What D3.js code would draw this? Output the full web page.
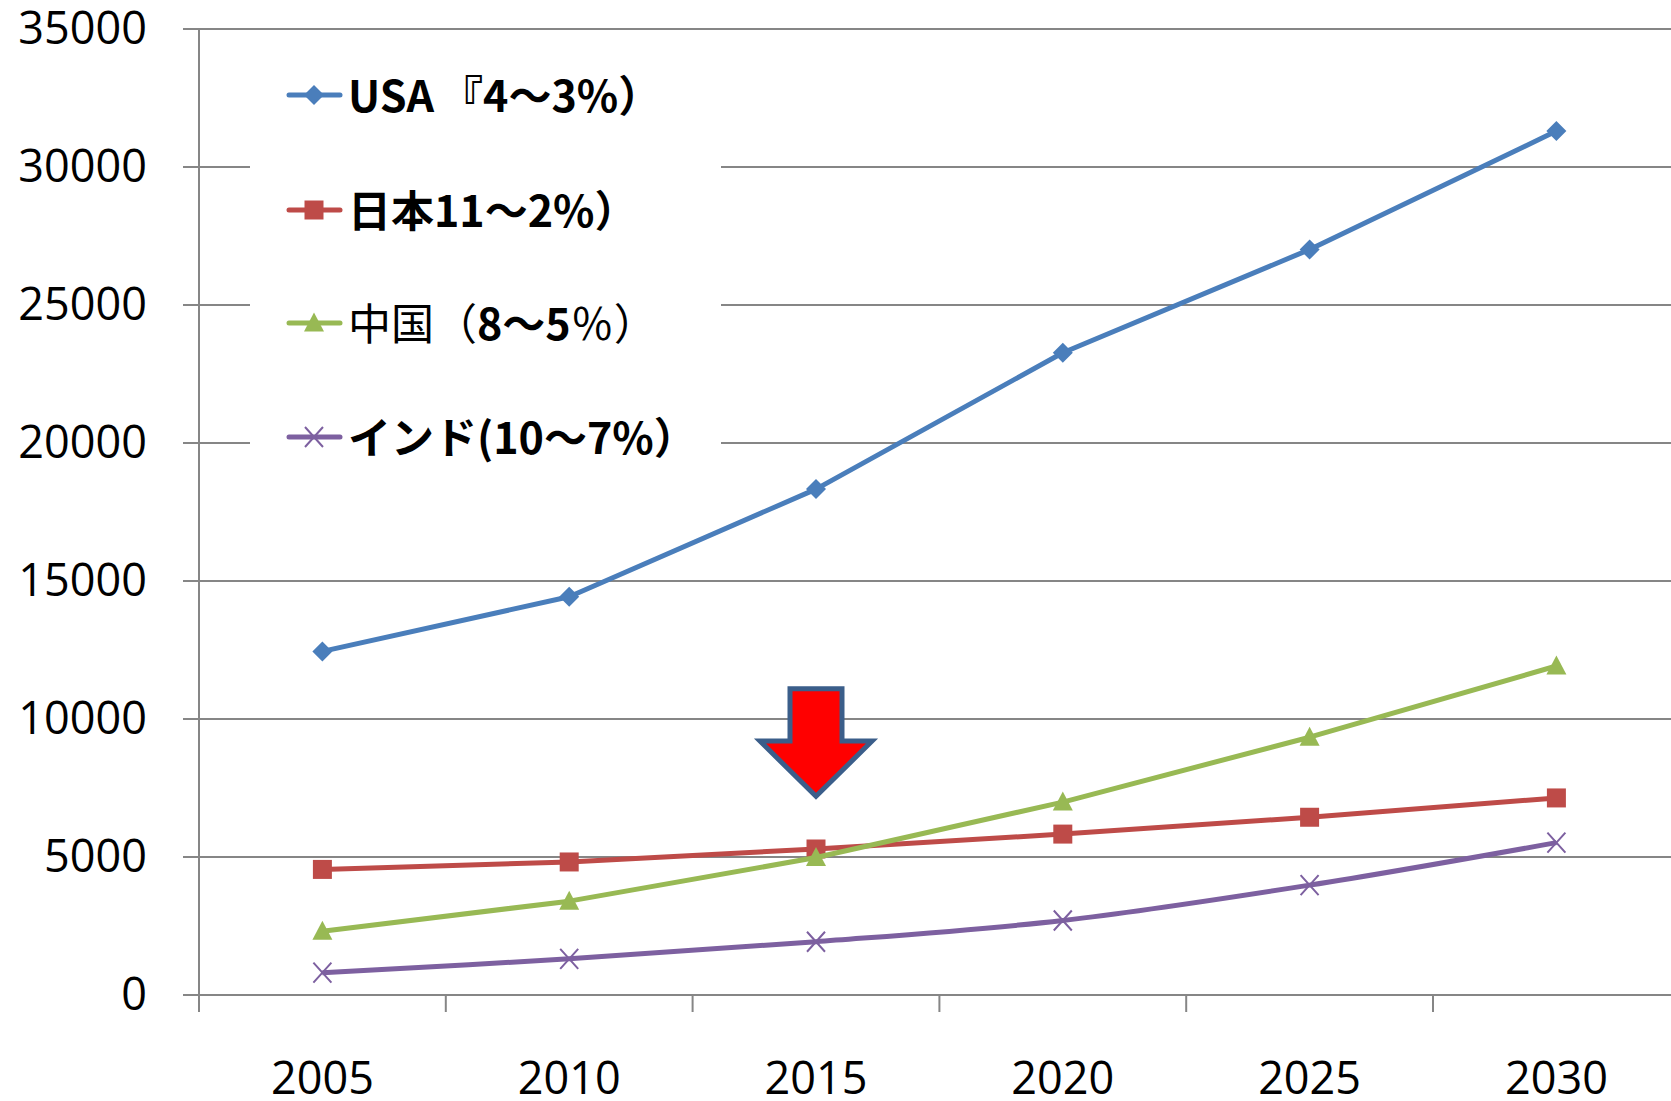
<!DOCTYPE html>
<html>
    <head>
        <meta charset="utf-8">
        <script src="https://d3js.org/d3.v7.min.js"></script>
        <title>GDP</title>

        <style>
            body {margin: 0; background-color: white; overflow: hidden;}
            text {font-family: "Open Sans", "Noto Sans CJK JP", sans-serif;}
            .legend text {font-family: "Noto Sans CJK JP", sans-serif;}
        </style>
    </head>
    <body>
        <script>
            const years = ['2005', '2010', '2015', '2020', '2025', '2030']
            const usa = [12450, 14430, 18330, 23270, 27010, 31300]
            const japan = [4550, 4820, 5290, 5830, 6440, 7140]
            const china = [2310, 3400, 4980, 6990, 9340, 11920]
            const india = [810, 1310, 1930, 2700, 3980, 5520]
            const yTicks = [0, 5000, 10000, 15000, 20000, 25000, 30000, 35000]

            const series = [
                {name: 'USA', values: usa, color: '#4a7ebb', marker: 'diamond'},
                {name: '日本', values: japan, color: '#be4b48', marker: 'square'},
                {name: '中国', values: china, color: '#98b954', marker: 'triangle'},
                {name: 'インド', values: india, color: '#7d60a0', marker: 'x', smooth: true}
            ]

            // legend labels: [text, weight, dx] pieces, to keep the mixed weights of the original
            const legendParts = [
                [['USA', 700, 0], ['『4～3%）', 700, 6]],
                [['日本11～2%）', 700, 0]],
                [['中国（', 400, 0], ['8～5', 700, 0], ['％）', 400, 0]],
                [['インド(10～7%）', 700, 0]]
            ]

            const width = 1671
            const height = 1101
            const margin = {top: 29, left: 199, bottom: 995}
            const band = 246.8

            const svg = d3.select('body')
                .append('svg')
                    .attr('width', width)
                    .attr('height', height)

            const xScale = d3.scaleBand().domain(years)
                .range([margin.left, margin.left + band * years.length])
            const yScale = d3.scaleLinear().domain([0, 35000]).range([margin.bottom, margin.top])
            const cx = d => xScale(d) + xScale.bandwidth() / 2

            const gridColor = '#868686'

            // horizontal grid + y ticks
            svg.append('g')
                .selectAll('line')
                .data(yTicks)
                .enter()
                .append('line')
                    .attr('x1', margin.left - 16)
                    .attr('x2', width + 20)
                    .attr('y1', d => yScale(d))
                    .attr('y2', d => yScale(d))
                    .attr('stroke', gridColor)
                    .attr('stroke-width', 2)

            // y axis line
            svg.append('line')
                .attr('x1', margin.left).attr('x2', margin.left)
                .attr('y1', yScale(35000)).attr('y2', margin.bottom + 17)
                .attr('stroke', gridColor)
                .attr('stroke-width', 2)

            // x ticks at category boundaries
            svg.append('g')
                .selectAll('line')
                .data(years)
                .enter()
                .append('line')
                    .attr('x1', d => xScale(d))
                    .attr('x2', d => xScale(d))
                    .attr('y1', margin.bottom)
                    .attr('y2', margin.bottom + 17)
                    .attr('stroke', gridColor)
                    .attr('stroke-width', 2)

            svg.append('g')
                .selectAll('text')
                .data(yTicks)
                .enter()
                .append('text')
                    .attr('x', 147)
                    .attr('y', d => yScale(d) + 15)
                    .attr('text-anchor', 'end')
                    .attr('font-size', 45)
                    .text(d => d)

            svg.append('g')
                .selectAll('text')
                .data(years)
                .enter()
                .append('text')
                    .attr('x', d => cx(d))
                    .attr('y', 1094)
                    .attr('text-anchor', 'middle')
                    .attr('font-size', 45)
                    .text(d => d)

            // legend box (covers gridlines)
            const legend = svg.append('g').attr('class', 'legend')
            legend.append('rect')
                .attr('x', 250).attr('y', 50)
                .attr('width', 471).attr('height', 430)
                .attr('fill', 'white')

            const markerPath = (type) => {
                if (type === 'diamond') return 'M0,-10L10,0L0,10L-10,0Z'
                if (type === 'square') return 'M-9.5,-9.5H9.5V9.5H-9.5Z'
                if (type === 'triangle') return 'M0,-10.5L10,8.5H-10Z'
                return 'M-9,-10L9,10M-9,10L9,-10'
            }

            const drawMarker = (g, s, x, y) => {
                g.append('path')
                    .attr('d', markerPath(s.marker))
                    .attr('transform', `translate(${x},${y})`)
                    .attr('fill', s.marker === 'x' ? 'none' : s.color)
                    .attr('stroke', s.color)
                    .attr('stroke-width', s.marker === 'x' ? 2 : 0)
            }

            // series lines and markers
            series.forEach(s => {
                const line = d3.line()
                    .x((d, i) => cx(years[i]))
                    .y(d => yScale(d))
                    .curve(s.smooth ? d3.curveCatmullRom.alpha(0.5) : d3.curveLinear)

                svg.append('path')
                    .datum(s.values)
                    .attr('d', line)
                    .attr('fill', 'none')
                    .attr('stroke', s.color)
                    .attr('stroke-width', 5)
                    .attr('stroke-linejoin', 'round')

                const g = svg.append('g')
                s.values.forEach((v, i) => drawMarker(g, s, cx(years[i]), yScale(v)))
            })

            const rowY = [95, 210, 323, 437]
            series.forEach((s, i) => {
                legend.append('line')
                    .attr('x1', 289).attr('x2', 340)
                    .attr('y1', rowY[i]).attr('y2', rowY[i])
                    .attr('stroke', s.color)
                    .attr('stroke-width', 5)
                    .attr('stroke-linecap', 'round')
                drawMarker(legend, s, 314, rowY[i])

                const t = legend.append('text')
                    .attr('x', 348)
                    .attr('y', rowY[i] + 17)
                    .attr('font-size', 43)
                legendParts[i].forEach(p => {
                    t.append('tspan')
                        .attr('font-weight', p[1])
                        .attr('dx', p[2])
                        .text(p[0])
                })
            })

            // red arrow pointing at 2015
            const ax = cx('2015')
            const arrow = d3.path()
            arrow.moveTo(ax - 26, yScale(11100))
            arrow.lineTo(ax + 26, yScale(11100))
            arrow.lineTo(ax + 26, yScale(9200))
            arrow.lineTo(ax + 56, yScale(9200))
            arrow.lineTo(ax, yScale(7200))
            arrow.lineTo(ax - 56, yScale(9200))
            arrow.lineTo(ax - 26, yScale(9200))
            arrow.closePath()

            svg.append('path')
                .attr('d', arrow.toString())
                .attr('fill', '#ff0000')
                .attr('stroke', '#3b5e8a')
                .attr('stroke-width', 5)
        </script>
    </body>
</html>
